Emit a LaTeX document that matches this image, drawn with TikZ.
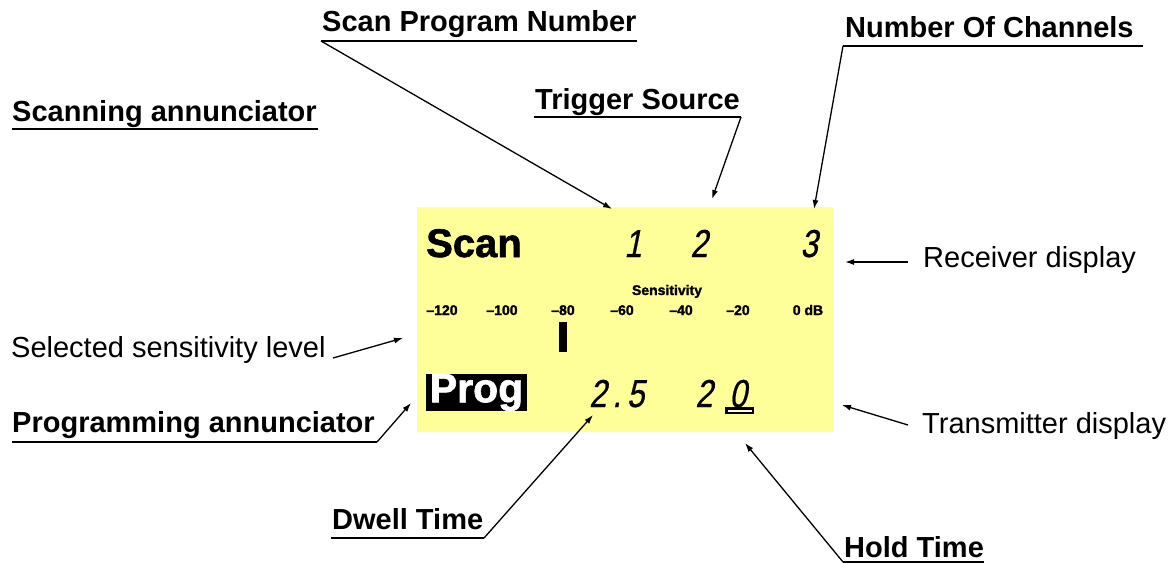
\documentclass[tikz,border=0pt]{standalone}
\usepackage{fontspec}
\setmainfont{Liberation Sans}
\newfontfamily\lcdfont{Liberation Sans}[FakeSlant=0.2,FakeStretch=0.8,LetterSpace=15,FakeBold=0.6]
\newfontfamily\dispfont{Liberation Sans Bold}[FakeBold=1.6]
\usetikzlibrary{arrows.meta}
\definecolor{lcdyellow}{RGB}{255,255,153}
\begin{document}
\begin{tikzpicture}[x=1pt,y=-1pt,
  lbl/.style={inner sep=0pt,anchor=base west,font=\fontsize{29}{32}\selectfont\bfseries},
  plain/.style={inner sep=0pt,anchor=base west,font=\fontsize{29}{32}\selectfont},
  uline/.style={line width=2.6pt},
  lead/.style={line width=1.3pt,-{Latex[length=9pt,width=6pt]}},
  digit/.style={inner sep=0pt,anchor=base,font=\fontsize{39}{40}\lcdfont},
  scalelbl/.style={inner sep=0pt,anchor=base,font=\fontsize{14}{15}\dispfont}]
\useasboundingbox (0,0) rectangle (1170,563);
% LCD panel
\node[fill=lcdyellow,minimum width=416,minimum height=225,inner sep=0pt,anchor=north west] (lcd) at (417,207) {};
\node[inner sep=0pt,anchor=base west,font=\fontsize{40}{42}\dispfont] (scan) at (426,257) {Scan};
\node[digit] (d1) at (633,257) {1};
\node[digit] (d2) at (699,257) {2};
\node[digit] (d3) at (809,257) {3};
\node[scalelbl] (sens) at (667,295) {Sensitivity};
\node[scalelbl] (s120) at (442,315) {–120};
\node[scalelbl] (s100) at (502,315) {–100};
\node[scalelbl] (s80) at (563,315) {–80};
\node[scalelbl] (s60) at (622,315) {–60};
\node[scalelbl] (s40) at (681,315) {–40};
\node[scalelbl] (s20) at (738,315) {–20};
\node[scalelbl] (s0) at (808,315) {0 dB};
\node[fill=black,minimum width=8,minimum height=30,inner sep=0pt] (bar) at (563,337) {};
\node[fill=black,text=white,inner sep=0pt,minimum width=101,minimum height=37,font=\fontsize{41}{42}\dispfont] (prog) at (476.5,392.5) {Prog};
\node[digit,anchor=base west] (dw) at (589,407) {2.5};
\node[digit] (t2) at (704,407) {2};
\node[digit] (t0) at (738,407) {0};
\node[draw,line width=2.5pt,fill=lcdyellow!35,minimum width=26.5,minimum height=4.5,inner sep=0pt] (hb) at (739.5,410.5) {};
% labels
\node[lbl] (spn) at (322,31) {Scan Program Number};
\node[lbl] (ts) at (535,109) {Trigger Source};
\node[lbl] (noc) at (845,37) {Number Of Channels};
\node[lbl] (sa) at (12,121) {Scanning annunciator};
\node[plain] (rd) at (923,267) {Receiver display};
\node[plain] (ssl) at (11,357) {Selected sensitivity level};
\node[lbl] (pa) at (12,432) {Programming annunciator};
\node[plain] (txd) at (922,433) {Transmitter display};
\node[lbl] (dt) at (332,529) {Dwell Time};
\node[lbl] (ht) at (844,557) {Hold Time};
% coordinates
\coordinate (spnL) at (321,41);   \coordinate (spnR) at (637,41);  \coordinate (spnT) at (612,209);
\coordinate (tsL) at (534,117);   \coordinate (tsR) at (741,117);  \coordinate (tsT) at (712,199);
\coordinate (nocL) at (843,46);   \coordinate (nocR) at (1143,46); \coordinate (nocT) at (814,209);
\coordinate (saL) at (12,129);    \coordinate (saR) at (318,129);
\coordinate (rdS) at (908,262);   \coordinate (rdT) at (845,262);
\coordinate (sslS) at (333,358);  \coordinate (sslT) at (403,338);
\coordinate (paL) at (12,442);    \coordinate (paR) at (377,442);  \coordinate (paT) at (411,403);
\coordinate (txS) at (908,425);   \coordinate (txT) at (842,405);
\coordinate (dtL) at (331,538);   \coordinate (dtR) at (484,538);  \coordinate (dtT) at (593,415);
\coordinate (htL) at (843,562);   \coordinate (htR) at (984,562);  \coordinate (htT) at (745,443);
% underlines
\draw[uline] (spnL) -- (spnR);
\draw[uline] (tsL) -- (tsR);
\draw[uline] (nocL) -- (nocR);
\draw[uline] (saL) -- (saR);
\draw[uline] (paL) -- (paR);
\draw[uline] (dtL) -- (dtR);
\draw[uline] (htL) -- (htR);
% leaders
\draw[lead] (spnL) -- (spnT);
\draw[lead] (tsR) -- (tsT);
\draw[lead] (nocL) -- (nocT);
\draw[lead] (rdS) -- (rdT);
\draw[lead] (sslS) -- (sslT);
\draw[lead] (paR) -- (paT);
\draw[lead] (txS) -- (txT);
\draw[lead] (dtR) -- (dtT);
\draw[lead] (htL) -- (htT);
\end{tikzpicture}
\end{document}
